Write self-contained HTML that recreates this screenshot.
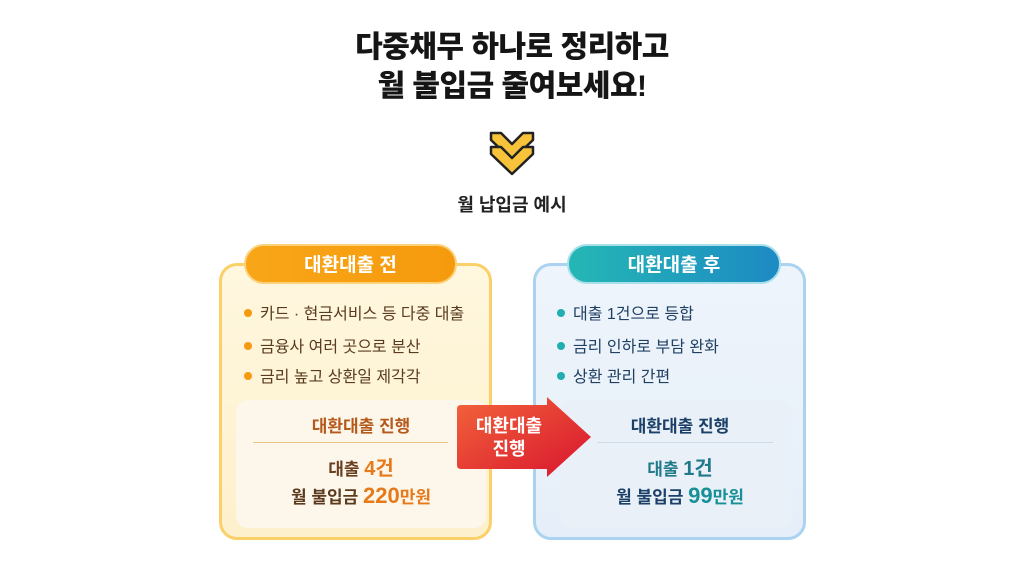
<!DOCTYPE html>
<html><head><meta charset="utf-8"><style>
*{margin:0;padding:0;box-sizing:border-box}
body{width:1024px;height:576px;background:#fff;position:relative;overflow:hidden;font-family:"Liberation Sans","Noto Sans CJK KR",sans-serif}
.a{position:absolute}
.c{text-align:center;white-space:nowrap}
.t{left:0;width:1024px;font-size:30px;font-weight:900;color:#151515;letter-spacing:-0.5px}
.card{border-radius:18px}
.pill{border-radius:20px;color:#fff;font-size:19px;font-weight:700;line-height:39px;text-align:center}
.li{font-size:16px;white-space:nowrap;line-height:20px}
.dot{display:inline-block;width:8px;height:8px;border-radius:50%;margin-right:8px;vertical-align:2px}
</style></head><body>
<div class="a c t" style="top:29px;line-height:38px">다중채무 하나로 정리하고</div>
<div class="a c t" style="top:68px;line-height:38px">월 불입금 줄여보세요!</div>
<svg class="a" style="left:488px;top:130px" width="48" height="46" viewBox="0 0 48 46">
<path d="M3 3 L13 3 L24 14 L35 3 L45 3 L45 10 L24 30 L3 10Z" fill="#f7c33a" stroke="#222" stroke-width="2.5" stroke-linejoin="round"/>
<path d="M3 17 L13 17 L24 28 L35 17 L45 17 L45 24 L24 44 L3 24Z" fill="#f7c33a" stroke="#222" stroke-width="2.5" stroke-linejoin="round"/>
</svg>
<div class="a c" style="left:0;width:1024px;top:191px;font-size:18px;font-weight:700;color:#222">월 납입금 예시</div>

<div class="a card" style="left:219px;top:263px;width:273px;height:277px;background:linear-gradient(#fff7df,#fdf0cc);border:3px solid #fbd068"></div>
<div class="a pill" style="left:244px;top:244px;width:213px;height:40px;background:linear-gradient(90deg,#f8a618,#f59a0c);border:2px solid #fbd27a">대환대출 전</div>
<div class="a li" style="left:244px;top:305px;color:#5a3b1e"><span class="dot" style="background:#f59a10"></span>카드 · 현금서비스 등 다중 대출</div>
<div class="a li" style="left:244px;top:338px;color:#5a3b1e"><span class="dot" style="background:#f59a10"></span>금융사 여러 곳으로 분산</div>
<div class="a li" style="left:244px;top:368px;color:#5a3b1e"><span class="dot" style="background:#f59a10"></span>금리 높고 상환일 제각각</div>
<div class="a" style="left:236px;top:400px;width:250px;height:128px;border-radius:12px;background:#fdf6ea"></div>
<div class="a c" style="left:236px;width:250px;top:412px;font-size:17px;font-weight:700;color:#b55a1c">대환대출 진행</div>
<div class="a" style="left:253px;top:442px;width:195px;height:1px;background:#edc38a"></div>
<div class="a c" style="left:236px;width:250px;top:452px;font-size:17px;font-weight:700;color:#6a3e1e">대출 <span style="color:#e6791a;font-size:20px">4건</span></div>
<div class="a c" style="left:236px;width:250px;top:483px;font-size:17px;font-weight:700;color:#5a3b1e">월 불입금 <span style="color:#e6791a;font-size:22px">220</span><span style="color:#e6791a">만원</span></div>

<div class="a card" style="left:533px;top:263px;width:273px;height:277px;background:linear-gradient(#eef4fb,#e6eff9);border:3px solid #a9d3f0"></div>
<div class="a pill" style="left:567px;top:244px;width:214px;height:40px;background:linear-gradient(90deg,#24b7b4,#1d8ac4);border:2px solid #a8dfe8">대환대출 후</div>
<div class="a li" style="left:557px;top:305px;color:#1f3f63"><span class="dot" style="background:#20aeb0"></span>대출 1건으로 등합</div>
<div class="a li" style="left:557px;top:338px;color:#1f3f63"><span class="dot" style="background:#20aeb0"></span>금리 인하로 부담 완화</div>
<div class="a li" style="left:557px;top:368px;color:#1f3f63"><span class="dot" style="background:#20aeb0"></span>상환 관리 간편</div>
<div class="a" style="left:560px;top:400px;width:232px;height:128px;border-radius:12px;background:#e9f0f8"></div>
<div class="a c" style="left:580px;width:200px;top:412px;font-size:17px;font-weight:700;color:#1c4068">대환대출 진행</div>
<div class="a" style="left:597px;top:442px;width:176px;height:1px;background:#cbdbe8"></div>
<div class="a c" style="left:580px;width:200px;top:452px;font-size:17px;font-weight:700;color:#217a8a">대출 <span style="font-size:20px">1건</span></div>
<div class="a c" style="left:570px;width:220px;top:483px;font-size:17px;font-weight:700;color:#1c4068">월 불입금 <span style="color:#179098;font-size:22px">99</span><span style="color:#179098">만원</span></div>

<svg class="a" style="left:455px;top:395px" width="140" height="86" viewBox="0 0 140 86">
<defs><linearGradient id="g" x1="0" y1="0" x2="1" y2="1"><stop offset="0" stop-color="#f2643a"/><stop offset="1" stop-color="#d8142e"/></linearGradient></defs>
<path d="M6 10 L92 10 L92 2 L136 42 L92 82 L92 74 L6 74 Q2 74 2 70 L2 14 Q2 10 6 10Z" fill="url(#g)"/>
<text x="54" y="37" text-anchor="middle" font-family="Liberation Sans,Noto Sans CJK KR,sans-serif" font-size="18" font-weight="700" fill="#fff">대환대출</text>
<text x="54" y="60" text-anchor="middle" font-family="Liberation Sans,Noto Sans CJK KR,sans-serif" font-size="18" font-weight="700" fill="#fff">진행</text>
</svg>
</body></html>
